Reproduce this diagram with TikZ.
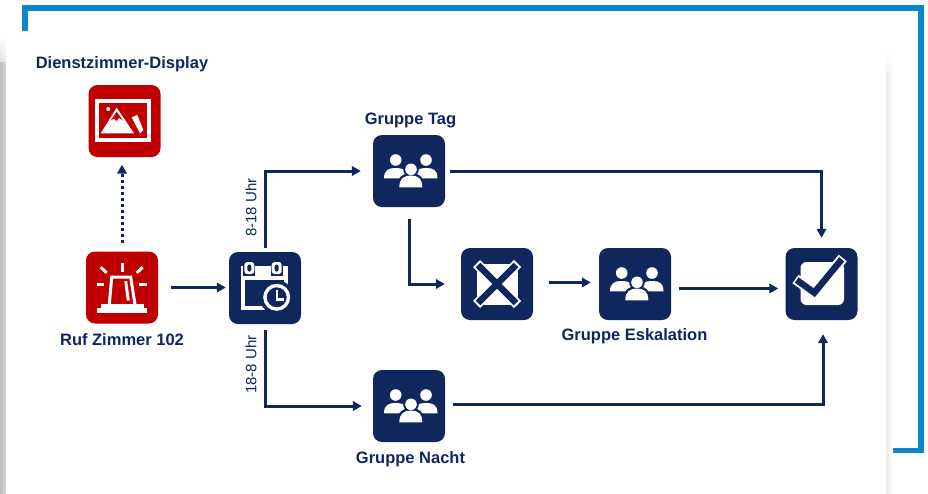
\documentclass[tikz,border=0pt]{standalone}
\usepackage{fontspec}
\setmainfont{Liberation Sans}
\usetikzlibrary{arrows.meta,fadings}
\definecolor{navy}{HTML}{10275D}
\definecolor{alarm}{HTML}{C00000}
\definecolor{frameblue}{HTML}{0A87CC}
\tikzset{
  x=1pt,y=-1pt,
  iconbox/.style={draw=none,rounded corners=9pt,minimum width=72pt,minimum height=72pt,inner sep=0pt},
  navybox/.style={iconbox,fill=navy},
  redbox/.style={iconbox,fill=alarm},
  conn/.style={draw=navy,line width=3pt,-{Triangle[length=9pt,width=9.5pt]}},
  dotconn/.style={conn,dash pattern=on 3pt off 3pt},
  title/.style={font=\fontsize{16.5}{18}\selectfont\bfseries,text=navy,inner sep=0pt},
  timelabel/.style={font=\fontsize{15}{16}\selectfont,text=navy,inner sep=0pt,rotate=90},
  ray/.style={draw=white,line width=3pt},
}
\newcommand{\teamicon}[1]{%
  \begin{scope}[shift={(#1)}]
    \fill[white] (-13.3,-11) circle (5.8);
    \fill[white] (17,-11) circle (5.8);
    \fill[white] (-25,7.3) .. controls (-25,-1) and (-20,-3) .. (-14,-3) .. controls (-9,-3) and (-5,-2) .. (-3,0) -- (-3,7.3) -- cycle;
    \fill[white] (28.5,7.3) .. controls (28.5,-1) and (24,-3) .. (17.5,-3) .. controls (12.5,-3) and (9,-2) .. (7,0) -- (7,7.3) -- cycle;
    \fill[navy] (2,-1.7) circle (7.8);
    \fill[navy] (-11.7,18) .. controls (-11.7,5) and (-6,2) .. (2,2) .. controls (10,2) and (15.3,5) .. (15.3,18) -- cycle;
    \fill[white] (2,-1.7) circle (5.8);
    \fill[white] (-9.7,16.3) .. controls (-9.7,7.5) and (-5,4.5) .. (2,4.5) .. controls (9,4.5) and (13.3,7.5) .. (13.3,16.3) -- cycle;
  \end{scope}}
\begin{document}
\begin{tikzpicture}
\useasboundingbox (0,0) rectangle (928,493);
\fill[white] (0,0) rectangle (928,493);
% blue frame
\draw[frameblue,line width=5.6pt,line join=miter] (25,31) -- (25,7.7) -- (921,7.7) -- (921,450.5) -- (880,450.5);
% panel shadows
\shade[left color=black!26,right color=black!15] (0,62) rectangle (6,493);
\shade[left color=black!26,right color=black!15,path fading=north] (0,38) rectangle (6,86);
\shade[left color=black!8,right color=white] (886,72) rectangle (893,493);
\shade[left color=black!8,right color=white,path fading=north] (886,48) rectangle (893,96);
\fill[white] (6,31) rectangle (886,493);

% boxes
\node[redbox] (img) at (124.5,121) {};
\node[redbox] (siren) at (122,287.5) {};
\node[navybox] (cal) at (265,288) {};
\node[navybox] (tag) at (409,171) {};
\node[navybox] (xbox) at (497,284) {};
\node[navybox] (esk) at (635,284) {};
\node[navybox] (chk) at (821.5,284) {};
\node[navybox] (nacht) at (409,406) {};

% labels
\node[title] (l1) at (122,64) {Dienstzimmer-Display};
\node[title] (l2) at (122,339.5) {Ruf Zimmer 102};
\node[title] (l3) at (410.5,120.5) {Gruppe Tag};
\node[title] (l4) at (634.5,336) {Gruppe Eskalation};
\node[title] (l5) at (410.5,459.5) {Gruppe Nacht};
\node[timelabel] (t1) at (251,207.5) {8-18 Uhr};
\node[timelabel] (t2) at (251,364.5) {18-8 Uhr};

% connectors
\draw[dotconn,shorten <=8pt,shorten >=7.5pt] (siren.north) -- (siren.north |- img.south);
\draw[conn,shorten <=13pt,shorten >=3pt] (siren.east) -- (siren.east -| cal.west);
\draw[conn,shorten <=4pt,shorten >=12pt] (cal.north) |- (tag.west);
\draw[conn,shorten <=6pt,shorten >=11pt] (cal.south) |- (nacht.west);
\draw[conn,shorten <=5pt,shorten >=10pt] (tag.east) -| (chk.north);
\draw[conn,shorten <=12pt,shorten >=16pt] (tag.south) |- (xbox.west);
\draw[conn,shorten <=16pt,shorten >=8pt] ([yshift=1.5pt]xbox.east) -- ([yshift=1.5pt]esk.west);
\draw[conn,shorten <=8pt,shorten >=7pt] ([yshift=-4.5pt]esk.east) -- ([yshift=-4.5pt]chk.west);
\draw[conn,shorten <=8pt,shorten >=14pt] ([yshift=2pt]nacht.east) -| ([xshift=1.5pt]chk.south);

% image icon
\begin{scope}[shift={(img.center)}]
  \draw[white,line width=3.8pt] (-27.6,-20) rectangle (24.2,19.2);
  \fill[white] (-16.2,-12) circle (2);
  \fill[white] (-7.8,-13.3) -- (-23.8,12.3) -- (9.5,12.3) -- cycle;
  \fill[alarm] (-7.8,-9.3) -- (-13.8,-0.5) -- (-10.5,-2.5) -- (-8,0) -- (-5.5,-3) -- (-1.5,-0.5) -- cycle;
  \fill[white] (7.2,-3.7) -- (12.8,-6) -- (18.8,9) -- (15.5,12.3) -- cycle;
\end{scope}

% siren icon
\begin{scope}[shift={(siren.center)}]
  \fill[white] (-25.3,20.3) rectangle (25.3,25);
  \fill[white] (-21.5,16.5) rectangle (21.5,20.3);
  \draw[ray,line join=miter] (-12.7,17) -- (-10.3,-10.3) -- (8.7,-10.3) -- (13,17);
  \draw[ray] (3.7,-6.3) -- (6.3,13);
  \draw[ray] (0,-24.3) -- (0,-16);
  \draw[ray] (-21.3,-20.3) -- (-15.3,-14.7);
  \draw[ray] (20.7,-20.3) -- (14.7,-14.7);
  \draw[ray] (-25.3,-3.3) -- (-18,-3.3);
  \draw[ray] (17.3,-3.3) -- (24.7,-3.3);
\end{scope}

% calendar icon
\begin{scope}[shift={(cal.center)}]
  \fill[white] (-24.3,-21.7) rectangle (23.3,-8.3);
  \fill[white] (-24.3,-8.3) rectangle (-20.3,21.7);
  \fill[white] (-24.3,17.7) rectangle (0,21.7);
  \fill[white] (19.3,-8.3) rectangle (23.3,0);
  \foreach \xx in {-15.7,11.7}{
    \fill[navy] (\xx-6,-22) rectangle (\xx+6,-12);
    \fill[white,rounded corners=3pt] (\xx-5,-26) rectangle (\xx+5,-14);
    \fill[navy,rounded corners=1.5pt] (\xx-2,-23.5) rectangle (\xx+2,-16.5);
  }
  \fill[navy] (11.7,9.3) circle (17);
  \draw[white,line width=3.4pt] (11.7,9.3) circle (11.8);
  \draw[white,line width=2.4pt] (11.7,2) -- (11.7,11.3) -- (19,11.3);
\end{scope}

\teamicon{tag.center}
\teamicon{esk.center}
\teamicon{nacht.center}

% cancelled box icon
\begin{scope}[shift={(xbox.center)}]
  \fill[white] (-20.5,-20.5) rectangle (20.5,20.5);
  \draw[white,line width=10pt] (-20.5,-20.5) -- (20.5,20.5);
  \draw[white,line width=10pt] (-20.5,20.5) -- (20.5,-20.5);
  \draw[navy,line width=6.5pt] (-19,-19) -- (19,19);
  \draw[navy,line width=6.5pt] (-19,19) -- (19,-19);
\end{scope}

% check icon
\begin{scope}[shift={(chk.center)}]
  \fill[white,rounded corners=6pt] (-21,-22) rectangle (22.5,21);
  \draw[white,line width=10.5pt,line join=miter] (-26,-5) -- (-7.2,8.7) -- (21.3,-26);
  \draw[navy,line width=6.5pt,line join=miter] (-24.8,-4) -- (-7.2,8.7) -- (20.2,-24.7);
\end{scope}
\end{tikzpicture}
\end{document}
